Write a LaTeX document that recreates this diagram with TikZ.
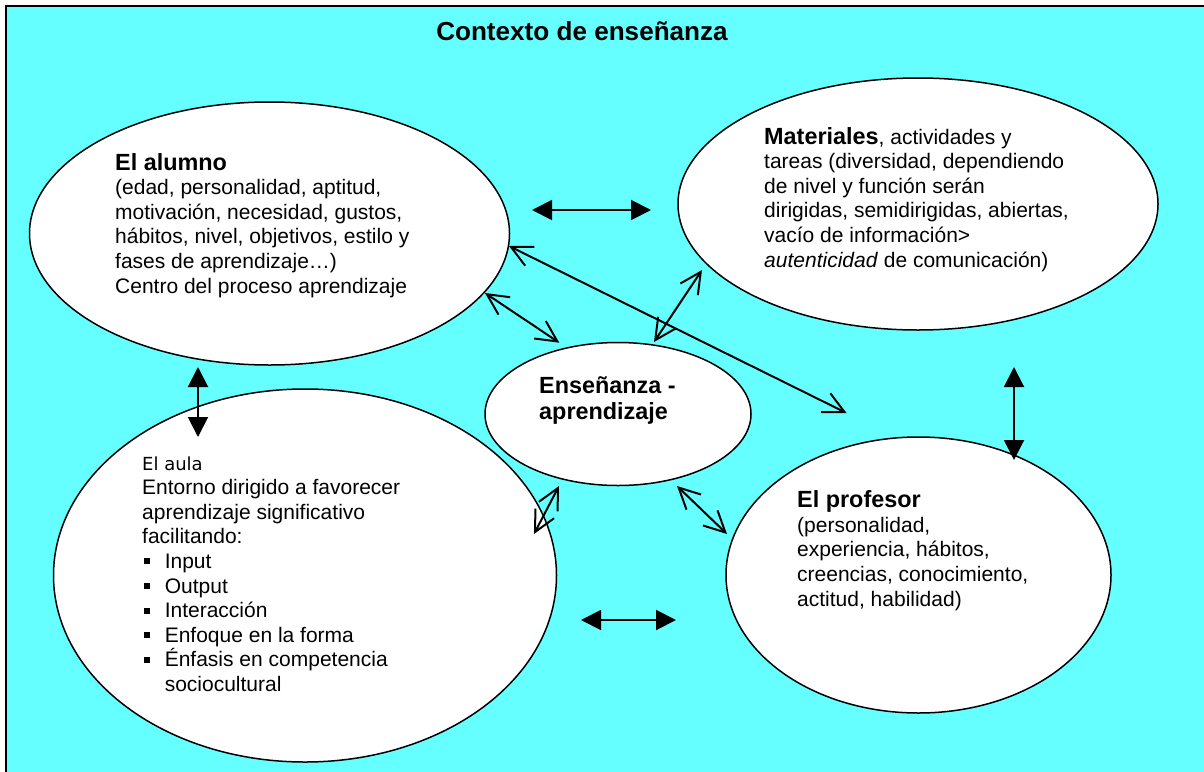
\documentclass[tikz,border=0pt]{standalone}
\usepackage{fontspec}
\setmainfont{Liberation Sans}
\newfontfamily\aulafont{DejaVu Sans}
\usetikzlibrary{arrows.meta,shapes.geometric}
\definecolor{bgcyan}{RGB}{102,255,255}
\newcommand{\blk}[2]{\vtop{\baselineskip=#1\lineskiplimit=-50pt\lineskip=0pt #2}}
\newcommand{\hd}{\fontsize{23.4}{24.6}\selectfont\bfseries}
\newcommand{\itm}[1]{\hbox{\makebox[22.6pt][l]{\hspace*{1.5pt}\rule[4pt]{6pt}{6pt}}#1}}
\tikzset{
  ell/.style={ellipse, draw=black, line width=1.5pt, fill=white, inner sep=0pt},
  txt/.style={anchor=base west, inner sep=0pt, font=\fontsize{21}{24.6}\selectfont},
  solidarrow/.style={line width=2pt, {Triangle[length=20pt,width=20pt]}-{Triangle[length=20pt,width=20pt]}},
  openarrow/.style={line width=2pt, {Straight Barb[length=21pt,width=21pt]}-{Straight Barb[length=21pt,width=21pt]}},
}
\begin{document}
\begin{tikzpicture}[x=1pt,y=-1pt]
\useasboundingbox (0,0) rectangle (1204,771);
\clip (0,0) rectangle (1204,771);
\fill[white] (0,0) rectangle (1204,771);
\fill[bgcyan] (5.7,5.7) rectangle (1220,790);
\draw[line width=2pt] (5.7,790) -- (5.7,5.7) -- (1220,5.7);

\node[font=\fontsize{26.1}{30}\selectfont\bfseries, anchor=base, inner sep=0pt] (title) at (582,40.7) {Contexto de enseñanza};

\node[ell, minimum width=480pt, minimum height=263pt] (alumno) at (269.5,233.5) {};
\node[ell, minimum width=480pt, minimum height=252pt] (materiales) at (918,204) {};
\node[ell, minimum width=503pt, minimum height=373pt] (aula) at (305,575.5) {};
\node[ell, minimum width=385pt, minimum height=276pt] (profesor) at (918.5,575) {};
\node[ell, minimum width=266pt, minimum height=143pt] (ensenanza) at (618,414) {};

\node[txt] (alumnotxt) at (115,170) {\blk{24.6pt}{%
  \hbox{\hd El alumno}
  \hbox{(edad, personalidad, aptitud,}
  \hbox{motivación, necesidad, gustos,}
  \hbox{hábitos, nivel, objetivos, estilo y}
  \hbox{fases de aprendizaje…)}
  \hbox{Centro del proceso aprendizaje}}};

\node[txt] (materialestxt) at (764,144) {\blk{24.6pt}{%
  \hbox{{\hd Materiales}, actividades y}
  \hbox{tareas (diversidad, dependiendo}
  \hbox{de nivel y función serán}
  \hbox{dirigidas, semidirigidas, abiertas,}
  \hbox{vacío de información>}
  \hbox{\textit{autenticidad} de comunicación)}}};

\node[txt] (aulatxt) at (142,470) {\blk{24.6pt}{%
  \hbox{\aulafont\fontsize{18}{24.6}\selectfont El aula}
  \hbox{Entorno dirigido a favorecer}
  \hbox{aprendizaje significativo}
  \hbox{facilitando:}
  \itm{Input}
  \itm{Output}
  \itm{Interacción}
  \itm{Enfoque en la forma}
  \itm{Énfasis en competencia}
  \hbox{\hspace*{22.6pt}sociocultural}}};

\node[txt] (profesortxt) at (797,507.7) {\blk{24.6pt}{%
  \hbox{\hd El profesor}
  \hbox{(personalidad,}
  \hbox{experiencia, hábitos,}
  \hbox{creencias, conocimiento,}
  \hbox{actitud, habilidad)}}};

\node[txt, font=\fontsize{23.4}{26}\selectfont\bfseries] (ensenanzatxt) at (539,393) {\blk{26pt}{%
  \hbox{Enseñanza -}
  \hbox{aprendizaje}}};

% connector end points
\coordinate (h1a) at (532,210);   \coordinate (h1b) at (651,210);
\coordinate (h2a) at (581,620);   \coordinate (h2b) at (676,620);
\coordinate (v1a) at (198,367);   \coordinate (v1b) at (198,437);
\coordinate (v2a) at (1014,367);  \coordinate (v2b) at (1014,460);
\coordinate (l1a) at (509,246);   \coordinate (l1b) at (846.5,413);
\coordinate (d1a) at (485,293);   \coordinate (d1b) at (559.3,342.7);
\coordinate (d2a) at (654,342);   \coordinate (d2b) at (702,270);
\coordinate (d3a) at (534,534);   \coordinate (d3b) at (559,486);
\coordinate (d4a) at (677,486);   \coordinate (d4b) at (727,534);

\draw[solidarrow] (h1a) -- (h1b);
\draw[solidarrow] (h2a) -- (h2b);
\draw[solidarrow] (v1a) -- (v1b);
\draw[solidarrow] (v2a) -- (v2b);
\draw[openarrow] (l1a) -- (l1b);
\draw[openarrow] (d1a) -- (d1b);
\draw[openarrow] (d2a) -- (d2b);
\draw[openarrow] (d3a) -- (d3b);
\draw[openarrow] (d4a) -- (d4b);
\end{tikzpicture}
\end{document}
